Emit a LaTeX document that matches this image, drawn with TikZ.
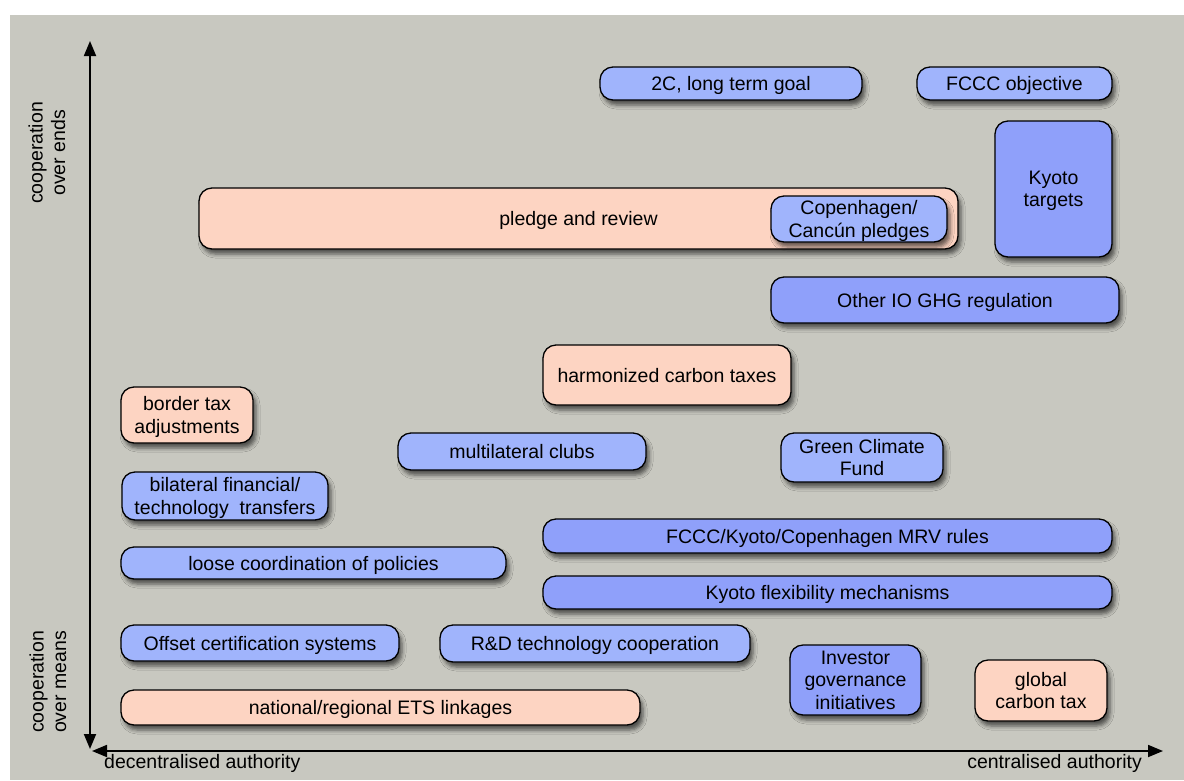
\documentclass[tikz,border=0pt]{standalone}
\usepackage{fontspec}
\setmainfont{Liberation Sans}
\usetikzlibrary{arrows.meta,shadows.blur}
\definecolor{bg}{RGB}{200,200,192}
\definecolor{lblue}{RGB}{160,180,252}
\definecolor{dblue}{RGB}{143,160,250}
\definecolor{peach}{RGB}{253,212,194}
\tikzset{
  box/.style={draw=black, line width=1.3pt, rounded corners=13pt, inner sep=0pt,
    align=center, font=\fontsize{19.5}{22.5}\selectfont, text depth=0pt,
    blur shadow={shadow xshift=3pt, shadow yshift=-5pt, shadow blur radius=4pt, shadow opacity=60}},
  lb/.style={box, fill=lblue},
  db/.style={box, fill=dblue},
  pb/.style={box, fill=peach},
  axis/.style={line width=1.8pt, {Triangle[length=15pt,width=12pt]}-{Triangle[length=15pt,width=12pt]}},
  lbl/.style={font=\fontsize{19.5}{22.5}\selectfont, align=center, inner sep=0pt}
}
\begin{document}
\begin{tikzpicture}[x=1pt,y=-1pt]
\useasboundingbox (0,0) rectangle (1184,780);
\fill[bg] (10,15) rectangle (1184,780);
% axes
\coordinate (vtop) at (90,41);
\coordinate (vbot) at (90,749);
\coordinate (hleft) at (92,751);
\coordinate (hright) at (1163,751);
\draw[axis] (vbot) -- (vtop);
\draw[axis] (hleft) -- (hright);
\node[lbl, rotate=90] (ends) at (47,153) {cooperation\\over ends};
\node[lbl, rotate=90] (means) at (48,682) {cooperation\\over means};
\node[lbl, anchor=west] (dec) at (104,763) {decentralised authority};
\node[lbl, anchor=east] (cen) at (1142,763) {centralised authority};
% boxes
\node[lb, minimum width=262pt, minimum height=33pt] (t2c) at (731,83.5) {2C, long term goal};
\node[lb, minimum width=195pt, minimum height=33pt] (fccc) at (1014.5,83.5) {FCCC objective};
\node[db, minimum width=117pt, minimum height=136pt] (kyoto) at (1053.5,189) {Kyoto\\targets};
\node[pb, minimum width=759pt, minimum height=61pt] (pledge) at (578.5,218.5) {pledge and review};
\node[lb, minimum width=176pt, minimum height=46pt] (copen) at (859,219) {Copenhagen/\\Cancún pledges};
\node[db, minimum width=348pt, minimum height=46pt] (otherio) at (945,300) {Other IO GHG regulation};
\node[pb, minimum width=248pt, minimum height=60pt] (harm) at (667,375) {harmonized carbon taxes};
\node[pb, minimum width=132pt, minimum height=56pt] (border) at (187,415) {border tax\\adjustments};
\node[lb, minimum width=248pt, minimum height=37pt] (multi) at (522,451.5) {multilateral clubs};
\node[lb, minimum width=162pt, minimum height=49pt] (gcf) at (862,457.5) {Green Climate\\Fund};
\node[lb, minimum width=206pt, minimum height=48pt] (bilat) at (225,496) {bilateral financial/\\technology\ \ transfers};
\node[db, minimum width=569pt, minimum height=34pt] (mrv) at (827.5,536) {FCCC/Kyoto/Copenhagen MRV rules};
\node[lb, minimum width=385pt, minimum height=32pt] (loose) at (313.5,563) {loose coordination of policies};
\node[db, minimum width=569pt, minimum height=33pt] (flex) at (827.5,592.5) {Kyoto flexibility mechanisms};
\node[lb, minimum width=278pt, minimum height=36pt] (offset) at (260,643) {Offset certification systems};
\node[lb, minimum width=310pt, minimum height=37pt] (rd) at (595,643.5) {R\&D technology cooperation};
\node[db, minimum width=131pt, minimum height=70pt] (investor) at (855.5,680) {Investor\\governance\\initiatives};
\node[pb, minimum width=132pt, minimum height=61pt] (gtax) at (1041,690.5) {global\\carbon tax};
\node[pb, minimum width=519pt, minimum height=35pt] (ets) at (380.5,707.5) {national/regional ETS linkages};
\end{tikzpicture}
\end{document}
